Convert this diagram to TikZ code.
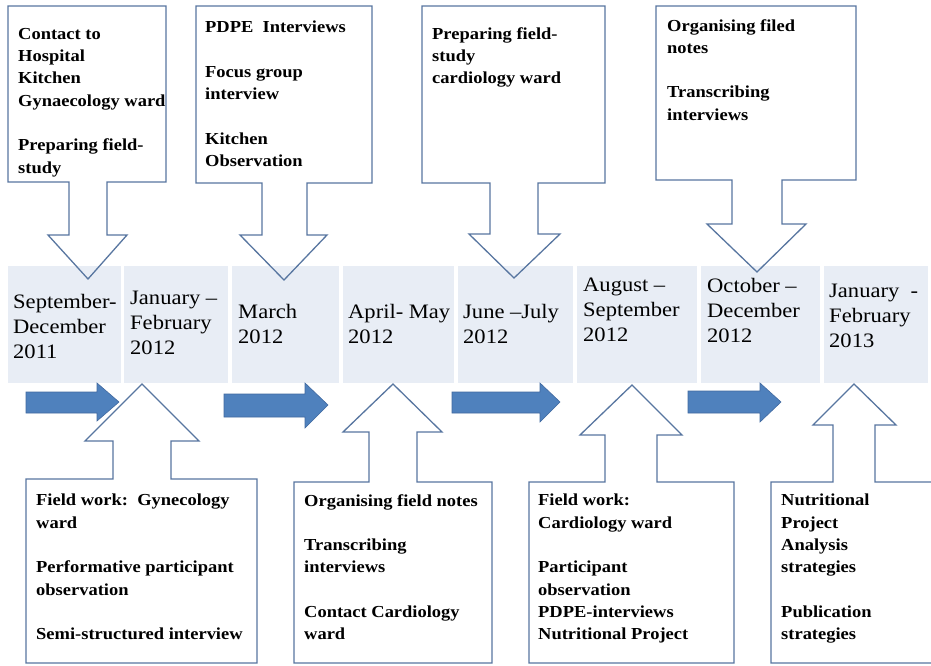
\documentclass[tikz,border=0pt]{standalone}
\usepackage{fontspec}
\setmainfont{Liberation Serif}[FakeStretch=1.1]
\definecolor{bandc}{RGB}{232,237,245}
\definecolor{calloutc}{RGB}{88,118,160}
\definecolor{arrowc}{RGB}{79,129,189}
\definecolor{arrowd}{RGB}{65,105,160}
\newcommand\datefont{\fontsize{20.5}{25}\selectfont}
\newcommand\boxfont{\fontsize{16.8}{22.3}\selectfont\bfseries}
\tikzset{
  callout/.style={draw=calloutc, line width=1.3pt, line join=miter},
  blockarrow/.style={fill=arrowc, draw=arrowd, line width=0.6pt, line join=miter},
  cell/.style={fill=bandc, draw=none},
  datetxt/.style={anchor=north west, inner sep=0pt, font=\datefont, align=left},
  boxtxt/.style={anchor=north west, inner sep=0pt, font=\boxfont, align=left},
}
% top callout: x1,x2,y2,sx1,sx2,yw,wx1,wx2,tip
\newcommand\downcallout[9]{%
  \draw[callout] (#1,6) -- (#2,6) -- (#2,#3) -- (#5,#3) -- (#5,#6) -- (#8,#6)
    -- (#9) -- (#7,#6) -- (#4,#6) -- (#4,#3) -- (#1,#3) -- cycle;}
\newcommand\upcallout[9]{%
  \draw[callout] (#1,663) -- (#2,663) -- (#2,#3) -- (#5,#3) -- (#5,#6) -- (#8,#6)
    -- (#9) -- (#7,#6) -- (#4,#6) -- (#4,#3) -- (#1,#3) -- cycle;}
\begin{document}
\begin{tikzpicture}[x=1pt,y=-1pt]
\useasboundingbox (0,0) rectangle (931,666);
\fill[white] (0,0) rectangle (931,666);
% date band
\fill[cell] (8,266) rectangle (121,383);
\fill[cell] (124,266) rectangle (228,383);
\fill[cell] (232,266) rectangle (339,383);
\fill[cell] (343,266) rectangle (454,383);
\fill[cell] (458,266) rectangle (573,383);
\fill[cell] (577,266) rectangle (697,383);
\fill[cell] (701,266) rectangle (820,383);
\fill[cell] (824,266) rectangle (928,383);
% date texts
\node[datetxt] (d1) at (13,294) {September-\\December\\2011};
\node[datetxt] (d2) at (130,291) {January –\\February\\2012};
\node[datetxt] (d3) at (238,304) {March\\2012};
\node[datetxt] (d4) at (348,304) {April- May\\2012};
\node[datetxt] (d5) at (463,304) {June –July\\2012};
\node[datetxt] (d6) at (583,278) {August –\\September\\2012};
\node[datetxt] (d7) at (707,278) {October –\\December\\2012};
\node[datetxt] (d8) at (829,284) {January\ \ -\\February\\2013};
% top callouts
\downcallout{8}{166}{182}{69}{107}{235}{48}{127}{88,279}
\downcallout{196}{372}{183}{262}{307}{235}{240}{327}{284,280}
\downcallout{422}{605}{183}{490}{538}{234}{469}{560}{514,278}
\downcallout{656}{856}{180}{732}{782}{224}{707}{806}{757,272}
% bottom callouts
\upcallout{26}{257}{479}{113}{171}{441}{85}{199}{142,384}
\upcallout{294}{492}{482}{369}{417}{432}{343}{442}{393,384}
\upcallout{529}{734}{482}{605}{657}{435}{580}{682}{632,385}
\upcallout{771}{940}{482}{833}{875}{425}{813}{896}{854,384}
% blue block arrows
\draw[blockarrow] (26,392) -- (97,392) -- (97,383) -- (119,402) -- (97,421) -- (97,413) -- (26,413) -- cycle;
\draw[blockarrow] (224,394) -- (305,394) -- (305,383) -- (328,405) -- (305,428) -- (305,417) -- (224,417) -- cycle;
\draw[blockarrow] (452,392) -- (540,392) -- (540,383) -- (560,402) -- (540,422) -- (540,413) -- (452,413) -- cycle;
\draw[blockarrow] (688,391) -- (760,391) -- (760,383) -- (781,402) -- (760,422) -- (760,413) -- (688,413) -- cycle;
% top box texts
\node[boxtxt] (t1) at (18,28) {Contact to\\Hospital\\Kitchen\\Gynaecology ward\\[22.3pt]Preparing field-\\study};
\node[boxtxt] (t2) at (205,21) {PDPE\ \ Interviews\\[22.3pt]Focus group\\interview\\[22.3pt]Kitchen\\Observation};
\node[boxtxt] (t3) at (432,27) {Preparing field-\\study\\cardiology ward};
\node[boxtxt] (t4) at (667,19) {Organising filed\\notes\\[22.3pt]Transcribing\\interviews};
% bottom box texts
\node[boxtxt] (b1) at (36,494) {Field work:\ \ Gynecology\\ward\\[22.3pt]Performative participant\\observation\\[22.3pt]Semi-structured interview};
\node[boxtxt] (b2) at (304,494) {Organising field notes\\[22.3pt]Transcribing\\interviews\\[22.3pt]Contact Cardiology\\ward};
\node[boxtxt] (b3) at (538,494) {Field work:\\Cardiology ward\\[22.3pt]Participant\\observation\\PDPE-interviews\\Nutritional Project};
\node[boxtxt] (b4) at (781,494) {Nutritional\\Project\\Analysis\\strategies\\[22.3pt]Publication\\strategies};
\end{tikzpicture}
\end{document}
